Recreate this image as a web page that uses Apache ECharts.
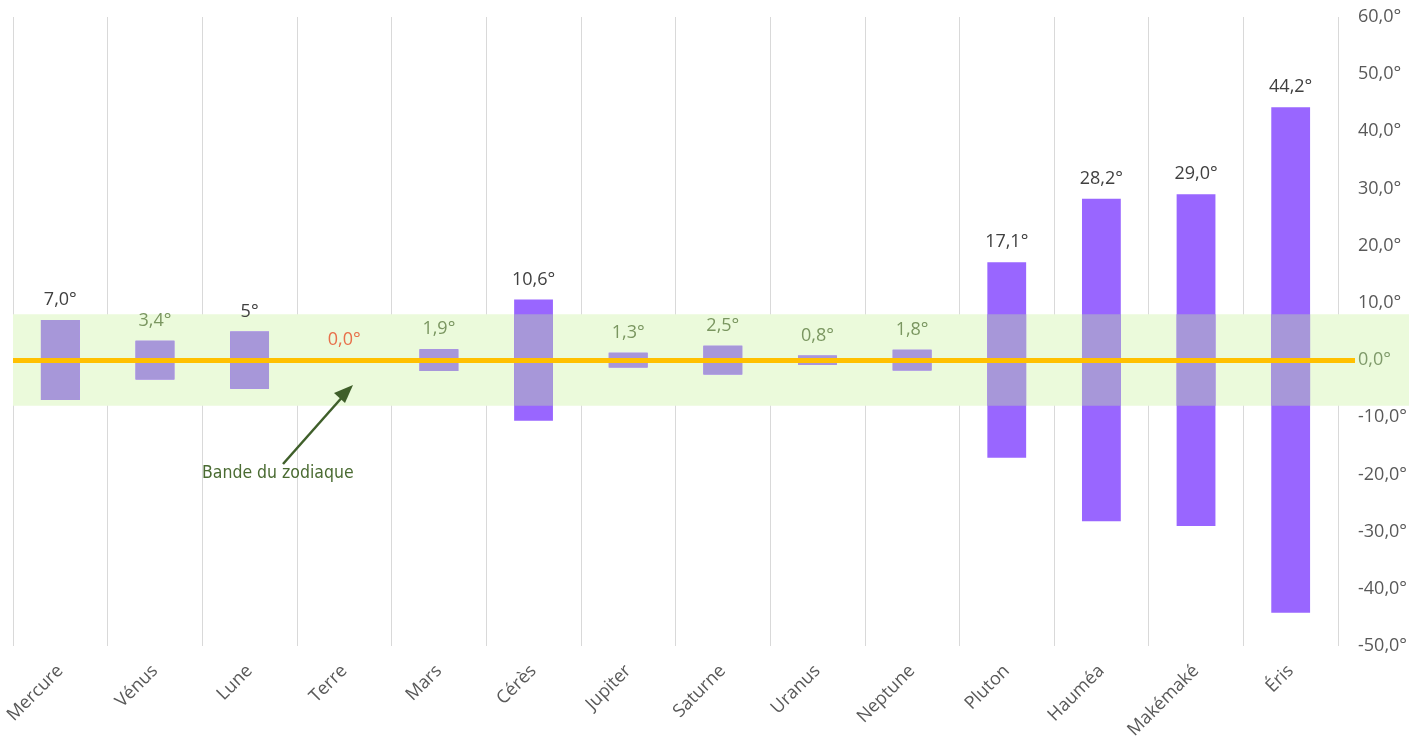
<!DOCTYPE html>
<html><head><meta charset="utf-8">
<script src="https://cdn.jsdelivr.net/npm/echarts@6/dist/echarts.min.js"></script>
<style>html,body{margin:0;padding:0;background:#fff}#c{width:1424px;height:742px}</style>
</head><body><div id="c"></div>
<script>
// ---- data ----
const categories = ['Mercure','Vénus','Lune','Terre','Mars','Cérès','Jupiter','Saturne','Uranus','Neptune','Pluton','Hauméa','Makémaké','Éris'];
const inclinations = [7.0, 3.4, 5, 0.0, 1.9, 10.6, 1.3, 2.5, 0.8, 1.8, 17.1, 28.2, 29.0, 44.2];
const valueLabels = ['7,0°','3,4°','5°','0,0°','1,9°','10,6°','1,3°','2,5°','0,8°','1,8°','17,1°','28,2°','29,0°','44,2°'];
const zodiacHalfWidth = 8;
const yMin = -50, yMax = 60, yInterval = 10;
const annotationText = 'Bande du zodiaque';

// ---- styles ----
const labelColors = ['#404040','#7a9660','#404040','#e8704a','#7a9660','#404040','#7a9660','#7a9660','#7a9660','#7a9660','#404040','#404040','#404040','#404040'];
const PURPLE = '#9966ff', LAVENDER = '#a797d9', BAND = '#ebfadb', GOLD = '#ffc000';

const upper = inclinations.map((v, i) => ({value: v, label: {color: labelColors[i]}}));
const lower = inclinations.map(v => -v);
const upperIn = inclinations.map(v => Math.min(v, zodiacHalfWidth));
const lowerIn = inclinations.map(v => -Math.min(v, zodiacHalfWidth));

const fmt = v => {
  const s = Number(v).toFixed(1).replace('.', ',') + '°';
  return Number(v) === 0 ? '{z|' + s + '}' : s;
};
const chart = echarts.init(document.getElementById('c'), null, {renderer: 'canvas'});
const gTop = 17, gBottom = 742 - 646;
chart.setOption({
  animation: false,
  grid: [
    {left: 13, right: 1424 - 1338, top: gTop, bottom: gBottom},
    {left: 13, right: 1424 - 1409, top: gTop, bottom: gBottom},
    {left: 13, right: 1424 - 1355, top: gTop, bottom: gBottom}
  ],
  xAxis: [
    {type: 'category', data: categories, gridIndex: 0, z: 1,
     axisLine: {show: false}, axisTick: {show: false},
     splitLine: {show: true, lineStyle: {color: '#d9d9d9', width: 1}},
     axisLabel: {rotate: 45, margin: 22, color: '#595959', fontSize: 18, fontFamily: 'Open Sans', interval: 0}},
    {type: 'value', gridIndex: 1, show: false, min: 0, max: 1},
    {type: 'value', gridIndex: 2, show: false, min: 0, max: 1}
  ],
  yAxis: [
    {type: 'value', gridIndex: 0, position: 'right', z: 1, min: yMin, max: yMax, interval: yInterval,
     axisLine: {show: false}, axisTick: {show: false}, splitLine: {show: false},
     axisLabel: {margin: 20, fontSize: 18, fontFamily: 'Open Sans', color: '#595959', formatter: fmt,
       rich: {z: {color: '#7f9a6a', fontSize: 18, fontFamily: 'Open Sans'}}}},
    {type: 'value', gridIndex: 1, show: false, min: yMin, max: yMax},
    {type: 'value', gridIndex: 2, show: false, min: yMin, max: yMax}
  ],
  series: [
    {type: 'line', xAxisIndex: 1, yAxisIndex: 1, data: [], z: 0, silent: true,
     markArea: {silent: true, itemStyle: {color: BAND}, data: [[{yAxis: -zodiacHalfWidth}, {yAxis: zodiacHalfWidth}]]}},
    {type: 'bar', data: upper, barWidth: '41%', barGap: '-100%', z: 3, itemStyle: {color: PURPLE},
     label: {show: true, position: 'top', distance: 11, fontSize: 18, fontFamily: 'Open Sans',
       formatter: p => valueLabels[p.dataIndex]}},
    {type: 'bar', data: lower, barWidth: '41%', barGap: '-100%', z: 3, itemStyle: {color: PURPLE}},
    {type: 'bar', data: upperIn, barWidth: '41%', barGap: '-100%', z: 4, itemStyle: {color: LAVENDER}},
    {type: 'bar', data: lowerIn, barWidth: '41%', barGap: '-100%', z: 4, itemStyle: {color: LAVENDER}},
    {type: 'line', xAxisIndex: 2, yAxisIndex: 2, data: [], z: 10, silent: true,
     markLine: {silent: true, symbol: ['none','none'], label: {show: false},
       lineStyle: {color: GOLD, width: 5, type: 'solid'}, data: [{yAxis: 0}]}}
  ],
  graphic: [
    {type: 'line', shape: {x1: 283, y1: 464, x2: 345, y2: 394}, style: {stroke: '#3f5f2a', lineWidth: 2.5}, z: 20},
    {type: 'polygon', shape: {points: [[353, 385], [334, 393], [345, 403]]}, style: {fill: '#3f5f2a'}, z: 20},
    {type: 'text', left: 202, top: 464, z: 20,
     style: {text: annotationText, fill: '#4a6b32', font: '17.5px "Liberation Sans Narrow", "DejaVu Sans Condensed", sans-serif'}}
  ]
});
</script>
</body></html>
